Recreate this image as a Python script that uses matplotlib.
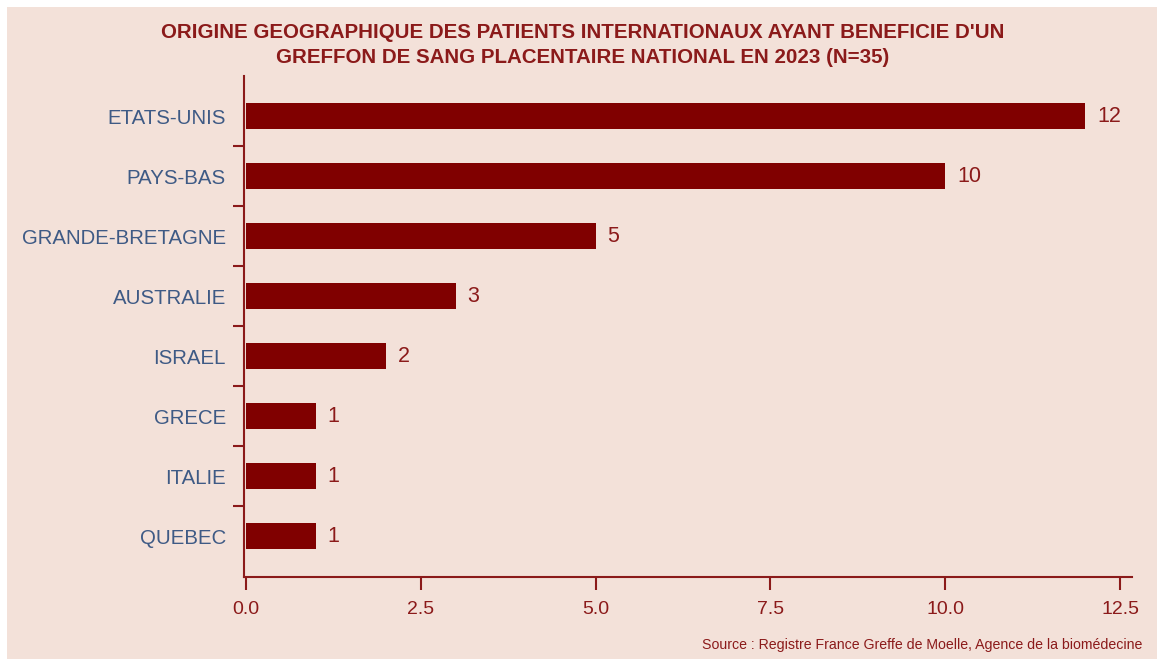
#!/usr/bin/env python3
"""Origine geographique des patients internationaux - greffon de sang placentaire 2023"""

import matplotlib
matplotlib.use("Agg")
import matplotlib.pyplot as plt
from matplotlib.patches import Rectangle
from matplotlib.ticker import FixedLocator

countries = ["ETATS-UNIS", "PAYS-BAS", "GRANDE-BRETAGNE", "AUSTRALIE",
             "ISRAEL", "GRECE", "ITALIE", "QUEBEC"]
patients = [12, 10, 5, 3, 2, 1, 1, 1]
x_ticks = [0.0, 2.5, 5.0, 7.5, 10.0, 12.5]

title = ("ORIGINE GEOGRAPHIQUE DES PATIENTS INTERNATIONAUX AYANT BENEFICIE D'UN\n"
         "GREFFON DE SANG PLACENTAIRE NATIONAL EN 2023 (N=35)")
source = "Source : Registre France Greffe de Moelle, Agence de la biomédecine"

BG = "#F3E1D9"
BAR = "#800000"
RED = "#8B1A1A"
BLUE = "#3E5A85"

plt.rcParams['font.family'] = ['Liberation Sans', 'DejaVu Sans']

fig = plt.figure(figsize=(11.57, 6.59), dpi=100)
fig.patch.set_facecolor("white")
# background panel (small white margin top/left like the source image)
fig.patches.append(Rectangle((7 / 1157, 0), 1, 1 - 7 / 659,
                             transform=fig.transFigure, facecolor=BG,
                             edgecolor="none", zorder=-1))

ax = fig.add_axes([244 / 1157, 1 - 577 / 659, (1132 - 244) / 1157, (577 - 76) / 659])
ax.set_facecolor("none")

pos = list(range(len(countries)))
ax.barh(pos, patients, height=0.44, color=BAR, edgecolor="none")

for y, v in zip(pos, patients):
    ax.text(v + 0.17, y, str(v), va="center", ha="left", fontsize=15.5, color=RED)

ax.set_xlim(-0.029, 12.67)
ax.set_ylim(len(countries) - 1 + 0.68, -0.67)

ax.set_xticks(x_ticks)
ax.set_xticklabels([f"{t:.1f}" for t in x_ticks])
ax.set_yticks(pos)
ax.set_yticklabels(countries)
ax.yaxis.set_minor_locator(FixedLocator([p + 0.5 for p in pos[:-1]]))

ax.tick_params(axis="y", which="major", length=0, pad=13, labelsize=14.7, labelcolor=BLUE)
ax.tick_params(axis="y", which="minor", length=8, width=1.5, color=RED)
ax.tick_params(axis="x", which="major", length=9, width=1.5, color=RED,
               pad=8, labelsize=14, labelcolor=RED)

for side in ["top", "right"]:
    ax.spines[side].set_visible(False)
for side in ["left", "bottom"]:
    ax.spines[side].set_color(RED)
    ax.spines[side].set_linewidth(1.5)

fig.text(583 / 1157, 1 - 45 / 659, title, ha="center", va="center",
         fontsize=14.8, fontweight="bold", color=RED, linespacing=1.4)
fig.text(1142 / 1157, 1 - 645 / 659, source, ha="right", va="center",
         fontsize=10.15, color=RED)

fig.savefig("out.png", dpi=100, facecolor=fig.get_facecolor())
